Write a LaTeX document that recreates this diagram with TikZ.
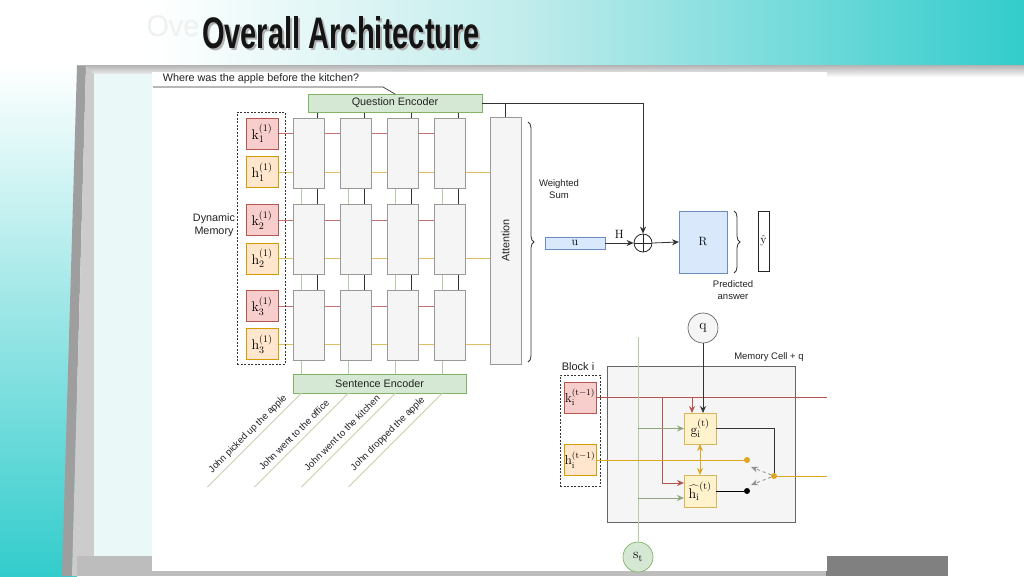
\documentclass[tikz,border=0pt]{standalone}
\usepackage{fontspec}
\usepackage{graphicx}
\newfontfamily\arial{Liberation Sans}
\usetikzlibrary{arrows.meta,decorations.pathreplacing,calc}
\definecolor{tealB}{HTML}{33CCCC}
\definecolor{tealA}{HTML}{C2ECEC}
\definecolor{cyanbg}{HTML}{EAF8F8}
\definecolor{kfill}{HTML}{F8CECC}
\definecolor{kdraw}{HTML}{B85450}
\definecolor{hfill}{HTML}{FFE6CC}
\definecolor{hdraw}{HTML}{D79B00}
\definecolor{gfill}{HTML}{FFF2CC}
\definecolor{gdraw}{HTML}{D6B656}
\definecolor{cfill}{HTML}{F5F5F5}
\definecolor{cdraw}{HTML}{999999}
\definecolor{grfill}{HTML}{D5E8D4}
\definecolor{grdraw}{HTML}{82B366}
\definecolor{blfill}{HTML}{DAE8FC}
\definecolor{bldraw}{HTML}{6C8EBF}
\definecolor{txt}{HTML}{222222}
\definecolor{redl}{HTML}{C87070}
\definecolor{yell}{HTML}{E2BE62}
\definecolor{orl}{HTML}{DDA520}
\definecolor{grl}{HTML}{B4CDA0}
\definecolor{sentl}{HTML}{C4D2B0}
\pgfdeclarelayer{bg}
\pgfdeclarelayer{lines}
\pgfsetlayers{bg,lines,main}
\begin{document}
\begin{tikzpicture}[x=1pt,y=-1pt,
 lbl/.style={font=\arial\fontsize{10.8}{12.5}\selectfont, text=txt, align=center, inner sep=0pt},
 slbl/.style={font=\arial\fontsize{9.5}{12}\selectfont, text=txt, align=center, inner sep=0pt},
 mth/.style={font=\fontsize{12}{14}\selectfont},
 mthb/.style={font=\fontsize{14}{16}\selectfont},
 mthc/.style={font=\fontsize{13}{15}\selectfont},
 bx/.style={draw, inner sep=0pt, outer sep=0pt, line width=0.7pt},
 kb/.style={bx, fill=kfill, draw=kdraw, minimum width=32, minimum height=31, mthb},
 hb/.style={bx, fill=hfill, draw=hdraw, minimum width=32, minimum height=31, mthb},
 gb/.style={bx, fill=gfill, draw=gdraw, minimum width=32, minimum height=31, mthb},
 cellb/.style={bx, fill=cfill, draw=cdraw, minimum width=31, minimum height=70},
 grb/.style={bx, fill=grfill, draw=grdraw, lbl},
 blb/.style={bx, fill=blfill, draw=bldraw, mth},
 dashbox/.style={draw=black!80, dash pattern=on 2pt off 1.5pt, line width=0.7pt, inner sep=0pt},
 arr/.style={-{Stealth[length=7pt,width=6pt]}},
 line/.style={draw=black!80, line width=0.8pt},
 dot/.style={circle, inner sep=0pt, minimum size=6},
]
\useasboundingbox (0,0) rectangle (1024,576);
\begin{pgfonlayer}{bg}
\fill[white] (0,0) rectangle (1024,576);
\shade[left color=white, right color=tealA] (150,0) rectangle (520,65);
\shade[left color=tealA, right color=tealB] (520,0) rectangle (1024,65);
\shade[top color=white, bottom color=tealB] (0,65) rectangle (77,576);
\shade[top color=black!30, bottom color=black!3] (77,65) rectangle (1024,76);
\fill[black!38] (77,66) -- (86,66) -- (72,576) -- (62,576) -- cycle;
\fill[black!20] (86,66) -- (94,74) -- (94,556) -- (80,576) -- (72,576) -- cycle;
\fill[cyanbg] (94,74) rectangle (152,556);
\fill[black!26] (77,556) rectangle (827,576);
\fill[black!50] (826,556) rectangle (948,576);
\fill[white] (152,72) rectangle (827,571);
\end{pgfonlayer}

% title
\node[inner sep=0pt, text=black!6] (ghost) at (173,26) {\resizebox{53pt}{21pt}{\arial Ove}};
\node[inner sep=0pt, text=black!30] (tshadow) at (343,35) {\resizebox{278pt}{32pt}{\arial\bfseries Overall Architecture}};
\node[inner sep=0pt, text=black!92] (title) at (341,33) {\resizebox{278pt}{32pt}{\arial\bfseries Overall Architecture}};

% question
\node[lbl] (qtext) at (261,79) {Where was the apple before the kitchen?};
\node[grb, minimum width=174, minimum height=18] (QE) at (395,103) {Question Encoder};
\node[grb, minimum width=173, minimum height=19] (SE) at (379.5,383.5) {Sentence Encoder};
\coordinate (qstart) at (153,87);
\coordinate (qbend) at (383,87);
\draw[line, line width=0.7pt] (qstart) -- (qbend) -- (QE.north);

% memory column
\node[dashbox, minimum width=48, minimum height=252] (dm) at (261,238) {};
\node[lbl] (dynlbl) at (214,225) {Dynamic\\Memory};
\node[kb] (k1) at (262,133.5) {$\mathrm{k}_1^{(1)}$};
\node[hb] (h1) at (262,172) {$\mathrm{h}_1^{(1)}$};
\node[kb] (k2) at (262,220) {$\mathrm{k}_2^{(1)}$};
\node[hb] (h2) at (262,258.5) {$\mathrm{h}_2^{(1)}$};
\node[kb] (k3) at (262,306) {$\mathrm{k}_3^{(1)}$};
\node[hb] (h3) at (262,344) {$\mathrm{h}_3^{(1)}$};

% grid
\foreach \c/\x in {1/308.5,2/355.5,3/402.5,4/449.5}{
  \foreach \r/\y in {1/153,2/239,3/325}{
    \node[cellb] (c\c\r) at (\x,\y) {};
  }
}
\node[bx, fill=cfill, draw=cdraw, minimum width=31, minimum height=247] (att) at (505.5,240.5) {};
\node[lbl, rotate=90] (attlbl) at (att.center) {Attention};

\begin{pgfonlayer}{lines}
\foreach \i in {1,2,3}{
  \draw[redl, line width=0.8pt] (k\i.east) -- (k\i.east -| c4\i.west);
  \draw[yell, line width=0.8pt] (h\i.east) -- (h\i.east -| att.west);
}
\foreach \c in {1,2,3,4}{
  \draw[line] ([xshift=9pt]c\c1.north |- QE.south) -- ([xshift=9pt]c\c3.north);
  \draw[grl, line width=0.8pt] ([xshift=-7pt]c\c1.south) -- ([xshift=-7pt]c\c3.south |- SE.north);
}
\end{pgfonlayer}

% sentences
\foreach \c/\t/\px/\py in {1/John picked up the apple/248/434, 2/John went to the office/294/435, 3/John went to the kitchen/342/433, 4/John dropped the apple/388/434}{
  \coordinate (st\c) at ([xshift=-7pt]c\c3.south |- SE.south);
  \coordinate (se\c) at ($(st\c)+(-94,94)$);
  \draw[sentl, line width=0.8pt] (st\c) -- (se\c);
  \node[slbl, rotate=45] (sl\c) at (\px,\py) {\t};
}

% right part
\draw[line] (att.north) -- (att.north |- QE.east);
\node[circle, draw=black!85, line width=0.8pt, minimum size=18, inner sep=0pt] (plus) at (643,243) {};
\draw[black!85, line width=0.8pt] (plus.north) -- (plus.south) (plus.west) -- (plus.east);
\draw[line, arr] (QE.east) -| (plus.north);
\draw[decorate, decoration={brace, amplitude=6pt}, black!80, line width=0.8pt] (528,122) -- (528,362);
\node[slbl] (wsum) at (559,189) {Weighted\\Sum};
\node[blb, minimum width=60, minimum height=12] (u) at (575,243) {$\mathrm{u}$};
\draw[line, arr] (u.east) -- (plus.west) node[midway, above=1pt, mth] (Hl) {$\mathrm{H}$};
\node[blb, minimum width=48, minimum height=62] (R) at (703,242) {$\mathrm{R}$};
\draw[line, arr] (plus.east) -- (R.west);
\draw[decorate, decoration={brace, amplitude=6pt}, black!80, line width=0.8pt] (734,211) -- (734,273);
\node[bx, fill=white, draw=black!85, minimum width=11, minimum height=60, mth] (yhat) at (763.5,241) {$\hat{\mathrm{y}}$};
\node[slbl] (pred) at (733,290) {Predicted\\answer};

% lower block
\node[bx, fill=cfill, draw=black!60, minimum width=188, minimum height=156] (mc) at (701,444) {};
\node[slbl, anchor=center] (mclbl) at (769,357) {Memory Cell + q};
\node[lbl, font=\arial\fontsize{11}{13}\selectfont] (blk) at (578,367) {Block i};
\node[dashbox, minimum width=40, minimum height=111] (bd) at (580,430.5) {};
\node[kb, mthc] (ki) at (580,397.5) {$\mathrm{k}_\mathrm{i}^{(\mathrm{t}-1)}$};
\node[hb, mthc] (hi) at (580,460) {$\mathrm{h}_\mathrm{i}^{(\mathrm{t}-1)}$};
\node[gb] (g) at (700,428.5) {$\mathrm{g}_\mathrm{i}^{(\mathrm{t})}$};
\node[gb, minimum height=32] (hh) at (700,491) {$\widehat{\mathrm{h}_\mathrm{i}}^{(\mathrm{t})}$};
\node[circle, bx, fill=cfill, draw=black!60, minimum size=30, mthb] (q) at (703,328) {$\mathrm{q}$};
\node[circle, bx, fill=grfill, draw=grdraw, minimum size=30, mthb] (s) at (638,557) {$\mathrm{s}_\mathrm{t}$};

\coordinate (kend) at (827,397.5);
\coordinate (rb1) at (662,397.5);
\coordinate (rb2) at (692,397.5);
\coordinate (hhr) at ($(hh.west)+(0,-8)$);
\coordinate (hhg) at ($(hh.west)+(0,7)$);
\coordinate (gtop) at (638,337);
\draw[kdraw, line width=0.8pt] (ki.east) -- (kend);
\draw[kdraw, line width=0.8pt, arr] (rb1) |- (hhr);
\draw[kdraw, line width=0.8pt, arr] (rb2) -- (rb2 |- g.north);
\draw[line, arr] (q.south) -- (q.south |- g.north);
\draw[grl, line width=0.9pt] (gtop) -- (s.north);
\draw[grl!80!black, line width=0.8pt, arr] (gtop |- g.west) -- (g.west);
\draw[grl!80!black, line width=0.8pt, arr] (gtop |- hhg) -- (hhg);
\node[dot, fill=orl] (d1) at (747,460) {};
\node[dot, fill=orl] (d2) at (774,476) {};
\node[dot, fill=black] (d3) at (747,491) {};
\draw[orl, line width=0.9pt] (hi.east) -- (d1);
\draw[orl, line width=0.9pt, {Stealth[length=7pt,width=6pt]}-{Stealth[length=7pt,width=6pt]}] (g.south) -- (hh.north);
\draw[line] (g.east) -| (d2);
\coordinate (oend) at (827,476);
\draw[orl, line width=0.9pt] (d2) -- (oend);
\coordinate (da1) at (751,467);
\coordinate (da2) at (751,485);
\draw[black!45, dashed, line width=0.8pt, arr] (d2) -- (da1);
\draw[black!45, dashed, line width=0.8pt, arr] (d2) -- (da2);
\draw[line, black] (hh.east) -- (d3);
\end{tikzpicture}
\end{document}
